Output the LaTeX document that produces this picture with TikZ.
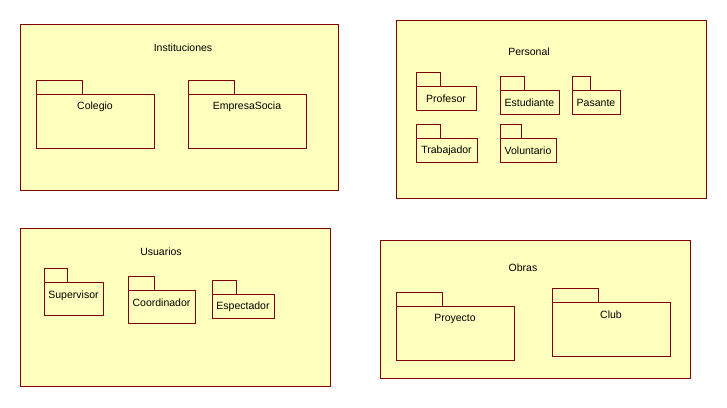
\documentclass[tikz,border=0pt]{standalone}
\usepackage{fontspec}
\setmainfont{Liberation Sans}
\definecolor{pkgfill}{HTML}{FFFFBE}
\definecolor{pkgedge}{HTML}{800000}
\tikzset{
  pkgline/.style={draw=pkgedge, fill=pkgfill, line width=1pt},
  pkgtext/.style={inner sep=0pt, yshift=-1.2pt, font=\fontsize{10.5}{12}\selectfont, text=black},
}
\newcommand\pkgshape[9]{%
  \path[pkgline] (#3,#4) rectangle (#5,#6);
  \path[pkgline] (#3,#6) rectangle (#7,#8);
  \coordinate (#1) at ({(#3+#7)/2},{(#6+#8)/2});
  \node[pkgtext] (#1-name) at ({(#3+#7)/2},#9) {#2};
}
\begin{document}
\begin{tikzpicture}[x=1pt,y=-1pt]
\useasboundingbox (0,0) rectangle (727,407);
% containers
\path[pkgline] (20,24) rectangle (338,190);
\node[pkgtext] (inst) at (183,47) {Instituciones};
\path[pkgline] (396,20) rectangle (706,198);
\node[pkgtext] (pers) at (529,51) {Personal};
\path[pkgline] (20,228) rectangle (330,386);
\node[pkgtext] (usu) at (161,251) {Usuarios};
\path[pkgline] (380,240) rectangle (690,378);
\node[pkgtext] (obras) at (523,267) {Obras};
% Instituciones
\pkgshape{colegio}{Colegio}{36}{80}{82}{94}{154}{148}{106}
\pkgshape{empresa}{EmpresaSocia}{188}{80}{234}{94}{306}{148}{106}
% Personal
\pkgshape{profesor}{Profesor}{416}{72}{440}{86}{476}{110}{98}
\pkgshape{estudiante}{Estudiante}{500}{76}{524}{90}{559}{114}{102}
\pkgshape{pasante}{Pasante}{572}{76}{590}{90}{620}{114}{102}
\pkgshape{trabajador}{Trabajador}{416}{124}{440}{138}{477}{162}{150}
\pkgshape{voluntario}{Voluntario}{500}{124}{521}{138}{556}{162}{150}
% Usuarios
\pkgshape{supervisor}{Supervisor}{44}{268}{67}{282}{103}{315}{295}
\pkgshape{coordinador}{Coordinador}{128}{276}{154}{290}{195}{323}{302}
\pkgshape{espectador}{Espectador}{212}{280}{236}{294}{274}{318}{306}
% Obras
\pkgshape{proyecto}{Proyecto}{396}{292}{442}{306}{514}{360}{318}
\pkgshape{club}{Club}{552}{288}{598}{302}{670}{356}{314}
\end{tikzpicture}
\end{document}
